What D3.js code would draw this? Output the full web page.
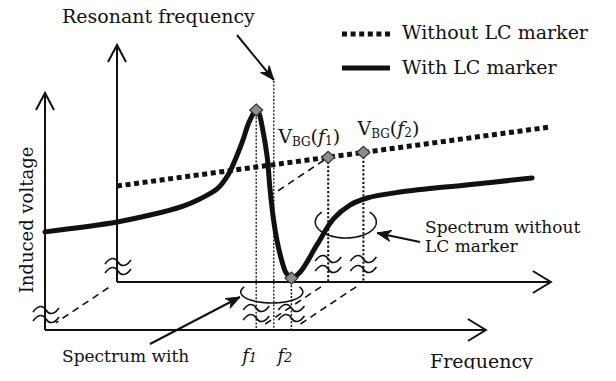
<!DOCTYPE html>
<html><head><meta charset="utf-8">
<script src="https://cdn.jsdelivr.net/npm/d3@7"></script>
<style>
html,body{margin:0;padding:0;background:#fff;}
svg{display:block;}
text{font-family:"DejaVu Serif",serif;fill:#111;}
</style></head><body>
<svg id="chart" width="616" height="381"></svg>
<script>
// Induced voltage vs. frequency with and without an LC marker (schematic, arbitrary units)
const withFreq = [0, 16.4, 23.9, 31.4, 35.2, 39.1, 41.6, 43.4, 45.0, 46.4, 48.0, 48.6, 49.5, 50.5, 51.1, 51.8, 52.7, 53.9, 54.8, 56.0, 58.0, 61.8, 65.5, 69.3, 73.2, 80.7, 95.7, 110.7];
const withVolt = [41.4, 45.6, 48.5, 52.3, 55.3, 59.5, 65.4, 72.6, 80.2, 87.8, 92.8, 91.6, 84.4, 73.0, 60.3, 48.5, 38.0, 28.7, 24.1, 21.9, 24.5, 35.9, 46.8, 52.7, 55.7, 58.2, 61.2, 64.1];
const withoutFreq = [0, 98.4];
const withoutVolt = [40.5, 65.4];
const markerFreq = [48, 56];          // f1, f2
const markerNames = ["1", "2"];
const peakVolt = 92.8;                // resonance peak at f1
const dipVolt = 21.9;                 // dip at f2
const bgVolt = [52.6, 54.7];          // V_BG(f1), V_BG(f2)
const resonantFreq = 52;
const legendLabels = ["Without LC marker", "With LC marker"];

const svg = d3.select("#chart");
const W = 616, H = 381;

// front plane scales; the back plane is the front one shifted by a depth offset
const xF = d3.scaleLinear().domain([0, 100]).range([45, 485]);
const yF = d3.scaleLinear().domain([0, 100]).range([330, 93]);
const DX = 72, DY = -48;
const xB = f => xF(f) + DX;
const yB = v => yF(v) + DY;

const ink = "#111";

function line(g, x1, y1, x2, y2, w, dash) {
  const l = g.append("line").attr("x1", x1).attr("y1", y1).attr("x2", x2).attr("y2", y2)
    .attr("stroke", ink).attr("stroke-width", w);
  if (dash) l.attr("stroke-dasharray", dash);
  return l;
}
function chevron(g, tip, from, len, hw) {
  const dx = from[0] - tip[0], dy = from[1] - tip[1], d = Math.hypot(dx, dy);
  const ux = dx / d, uy = dy / d, nx = -uy, ny = ux;
  g.append("path")
    .attr("d", `M${tip[0] + ux * len + nx * hw},${tip[1] + uy * len + ny * hw}L${tip[0]},${tip[1]}L${tip[0] + ux * len - nx * hw},${tip[1] + uy * len - ny * hw}`)
    .attr("fill", "none").attr("stroke", ink).attr("stroke-width", 2);
}
function pointer(g, from, tip) {
  line(g, from[0], from[1], tip[0], tip[1], 2);
  const dx = from[0] - tip[0], dy = from[1] - tip[1], d = Math.hypot(dx, dy);
  const ux = dx / d, uy = dy / d, nx = -uy, ny = ux, len = 14, hw = 5.5;
  g.append("path")
    .attr("d", `M${tip[0]},${tip[1]}L${tip[0] + ux * len + nx * hw},${tip[1] + uy * len + ny * hw}L${tip[0] + ux * len * 0.7},${tip[1] + uy * len * 0.7}L${tip[0] + ux * len - nx * hw},${tip[1] + uy * len - ny * hw}Z`)
    .attr("fill", ink).attr("stroke", ink).attr("stroke-width", 1);
}
function tildePair(g, cx, cy, gap) {
  [0, gap].forEach(o => {
    const y = cy + o;
    g.append("path")
      .attr("d", `M${cx - 13},${y + 2}C${cx - 8},${y - 5} ${cx - 3},${y - 5} ${cx},${y}C${cx + 3},${y + 5} ${cx + 8},${y + 5} ${cx + 13},${y - 2}`)
      .attr("fill", "none").attr("stroke", ink).attr("stroke-width", 1.6);
  });
}
function openEllipse(g, cx, cy, rx, ry, a0, a1) {
  const pts = d3.range(a0, a1 - 0.5, -2).map(a => {
    const t = a * Math.PI / 180;
    return [cx + rx * Math.cos(t), cy + ry * Math.sin(t)];
  });
  g.append("path").attr("d", d3.line()(pts)).attr("fill", "none").attr("stroke", ink).attr("stroke-width", 1.6);
}

const g = svg.append("g");

// axes: front and back planes
line(g, xF(0), yF(0), xF(0), yF(100), 2);
line(g, xF(0), yF(0), xF(100.2), yF(0), 2);
line(g, xB(0), yB(0), xB(0), yB(100), 2);
line(g, xB(0), yB(0), xB(98.6), yB(0), 2);
chevron(g, [xF(0), yF(100)], [xF(0), yF(0)], 17, 9);
chevron(g, [xB(0), yB(100)], [xB(0), yB(0)], 17, 9);
chevron(g, [xF(100.2), yF(0)], [xF(0), yF(0)], 18, 11);
chevron(g, [xB(98.6), yB(0)], [xB(0), yB(0)], 18, 11);

// depth lines between back and front planes
function depth(f, v, t0, t1) {
  const bx = xB(f), by = yB(v);
  line(g, bx - DX * t0, by - DY * t0, bx - DX * t1, by - DY * t1, 1.6, "7,5");
}
depth(0, 0, 0.12, 0.85);
markerFreq.forEach(f => depth(f, 0, 0.1, 0.88));
depth(markerFreq[0], bgVolt[0], 0.06, 0.75);

// vertical dotted guides
line(g, xF(markerFreq[0]), yF(peakVolt), xF(markerFreq[0]), yF(0), 1.3, "2,1.6");
line(g, xF(markerFreq[1]), yF(dipVolt), xF(markerFreq[1]), yF(0), 1.5, "2,1.6");
line(g, xF(resonantFreq), 81, xF(resonantFreq), yF(0), 1.3, "2,1.6");
markerFreq.forEach((f, i) => line(g, xB(f), yB(bgVolt[i]), xB(f), yB(0), 2, "2.2,2"));

// spectrum lines
const withoutPts = withoutFreq.map((f, i) => [xB(f), yB(withoutVolt[i])]);
g.append("path").attr("d", d3.line()(withoutPts))
  .attr("fill", "none").attr("stroke", ink).attr("stroke-width", 5).attr("stroke-dasharray", "5,3.6");
const withPts = withFreq.map((f, i) => [xF(f), yF(withVolt[i])]);
g.append("path").attr("d", d3.line().curve(d3.curveCatmullRom.alpha(0.5))(withPts))
  .attr("fill", "none").attr("stroke", ink).attr("stroke-width", 5).attr("stroke-linecap", "round");

// diamond markers
function diamond(x, y) {
  g.append("path").attr("d", `M${x},${y - 6}L${x + 6.5},${y}L${x},${y + 6}L${x - 6.5},${y}Z`)
    .attr("fill", "#8c8c8c").attr("stroke", "#333").attr("stroke-width", 1.2);
}
diamond(xF(markerFreq[0]), yF(peakVolt));
diamond(xF(markerFreq[1]), yF(dipVolt));
markerFreq.forEach((f, i) => diamond(xB(f), yB(bgVolt[i])));

// axis breaks
tildePair(g, xF(0) + 1, 310, 9);
tildePair(g, xB(0) + 1, 262, 9);
markerFreq.forEach(f => { tildePair(g, xF(f), 308, 10); tildePair(g, xB(f), 259, 10); });

// spectrum brackets
const midF = (xF(markerFreq[0]) + xF(markerFreq[1])) / 2;
const midB = (xB(markerFreq[0]) + xB(markerFreq[1])) / 2;
openEllipse(g, midF - 2, 292, 31, 11, 207, -27);
openEllipse(g, midB, 222, 30.5, 16, 218, -38);

// pointers
pointer(g, [237, 35], [xF(resonantFreq), 80]);
pointer(g, [150, 344], [240, 297]);
pointer(g, [420, 242], [377, 233]);

// legend
const lg = svg.append("g");
legendLabels.forEach((lab, i) => {
  const y = i === 0 ? 34 : 68;
  const s = lg.append("line").attr("x1", 342).attr("x2", 390).attr("y1", y).attr("y2", y)
    .attr("stroke", ink).attr("stroke-width", 5);
  if (i === 0) s.attr("stroke-dasharray", "5,3.6");
  lg.append("text").attr("x", 402).attr("y", i === 0 ? 39 : 74).attr("font-size", 19).text(lab);
});

// labels
svg.append("text").attr("x", 62).attr("y", 23).attr("font-size", 19).text("Resonant frequency");
svg.append("text").attr("transform", "translate(33,220) rotate(-90)").attr("text-anchor", "middle")
  .attr("font-size", 18).text("Induced voltage");

const lbOff = [[-50, -14], [-6, -17]];
markerFreq.forEach((f, i) => {
  const t = svg.append("text").attr("x", xB(f) + lbOff[i][0]).attr("y", yB(bgVolt[i]) + lbOff[i][1]).attr("font-size", 19);
  t.append("tspan").text("V");
  t.append("tspan").attr("font-size", 12).attr("dy", 3).text("BG");
  t.append("tspan").attr("dy", -3).text("(");
  t.append("tspan").attr("font-style", "italic").text("f");
  t.append("tspan").attr("font-size", 12).attr("dy", 2).text(markerNames[i]);
  t.append("tspan").attr("dy", -2).text(")");
});

svg.append("text").attr("x", 425).attr("y", 233).attr("font-size", 17).text("Spectrum without");
svg.append("text").attr("x", 425).attr("y", 252).attr("font-size", 17).text("LC marker");

// bottom row (clipped along the lower edge of the drawing)
svg.append("clipPath").attr("id", "bottomClip").append("rect").attr("x", 0).attr("y", 0).attr("width", W).attr("height", 369);
const bottom = svg.append("g").attr("clip-path", "url(#bottomClip)");
bottom.append("text").attr("x", 62).attr("y", 362).attr("font-size", 17).text("Spectrum with");
markerFreq.forEach((f, i) => {
  const t = bottom.append("text").attr("x", xF(f) - 14 + i * 0).attr("y", 362).attr("font-size", 18).attr("font-style", "italic");
  t.append("tspan").text("f");
  t.append("tspan").attr("font-size", 13).text(markerNames[i]);
});
bottom.append("text").attr("x", 430).attr("y", 368).attr("font-size", 19).text("Frequency");
</script>
</body></html>
